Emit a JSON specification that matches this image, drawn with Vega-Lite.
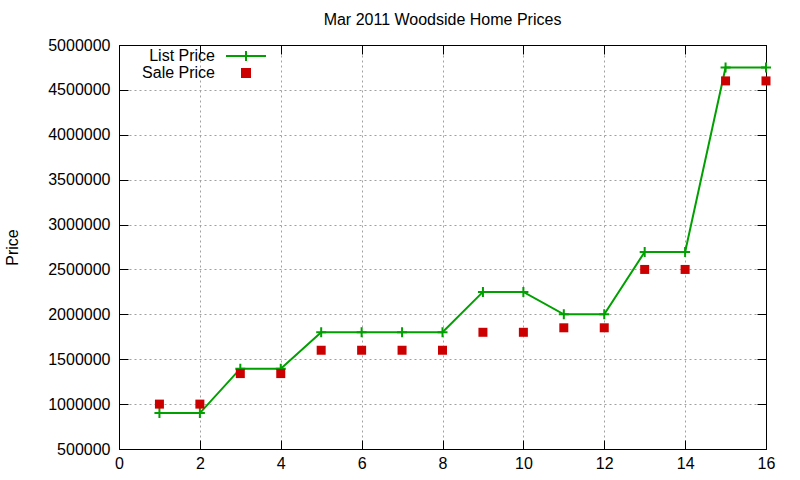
{
  "$schema": "https://vega.github.io/schema/vega-lite/v6.json",
  "width": 647,
  "height": 404,
  "autosize": {"type": "none"},
  "padding": {"left": 119, "top": 45, "right": 34, "bottom": 31},
  "title": {
    "text": "Mar 2011 Woodside Home Prices",
    "fontSize": 16,
    "fontWeight": "normal",
    "font": "Liberation Sans",
    "color": "black",
    "anchor": "middle",
    "offset": 9
  },
  "data": {
    "values": [
      {"n": 1, "price": 900000, "series": "List Price"},
      {"n": 2, "price": 900000, "series": "List Price"},
      {"n": 3, "price": 1395000, "series": "List Price"},
      {"n": 4, "price": 1395000, "series": "List Price"},
      {"n": 5, "price": 1800000, "series": "List Price"},
      {"n": 6, "price": 1800000, "series": "List Price"},
      {"n": 7, "price": 1800000, "series": "List Price"},
      {"n": 8, "price": 1800000, "series": "List Price"},
      {"n": 9, "price": 2250000, "series": "List Price"},
      {"n": 10, "price": 2250000, "series": "List Price"},
      {"n": 11, "price": 2000000, "series": "List Price"},
      {"n": 12, "price": 2000000, "series": "List Price"},
      {"n": 13, "price": 2695000, "series": "List Price"},
      {"n": 14, "price": 2695000, "series": "List Price"},
      {"n": 15, "price": 4750000, "series": "List Price"},
      {"n": 16, "price": 4750000, "series": "List Price"},
      {"n": 1, "price": 1000000, "series": "Sale Price"},
      {"n": 2, "price": 1000000, "series": "Sale Price"},
      {"n": 3, "price": 1340000, "series": "Sale Price"},
      {"n": 4, "price": 1340000, "series": "Sale Price"},
      {"n": 5, "price": 1600000, "series": "Sale Price"},
      {"n": 6, "price": 1600000, "series": "Sale Price"},
      {"n": 7, "price": 1600000, "series": "Sale Price"},
      {"n": 8, "price": 1600000, "series": "Sale Price"},
      {"n": 9, "price": 1800000, "series": "Sale Price"},
      {"n": 10, "price": 1800000, "series": "Sale Price"},
      {"n": 11, "price": 1850000, "series": "Sale Price"},
      {"n": 12, "price": 1850000, "series": "Sale Price"},
      {"n": 13, "price": 2500000, "series": "Sale Price"},
      {"n": 14, "price": 2500000, "series": "Sale Price"},
      {"n": 15, "price": 4600000, "series": "Sale Price"},
      {"n": 16, "price": 4600000, "series": "Sale Price"}
    ]
  },
  "layer": [
    {
      "transform": [{"filter": "datum.series === 'List Price'"}],
      "mark": {
        "type": "line",
        "strokeWidth": 2,
        "point": {"shape": "M-1,0H1M0,-1V1", "filled": false, "size": 100, "strokeWidth": 2}
      },
      "encoding": {
        "x": {
          "field": "n",
          "type": "quantitative",
          "scale": {"domain": [0, 16], "nice": false, "zero": false},
          "axis": {
            "orient": "bottom",
            "values": [0, 2, 4, 6, 8, 10, 12, 14, 16],
            "title": null,
            "tickSize": -9,
            "labelPadding": 15,
            "labelFlush": false
          }
        },
        "y": {
          "field": "price",
          "type": "quantitative",
          "scale": {"domain": [500000, 5000000], "nice": false, "zero": false},
          "axis": {
            "orient": "left",
            "values": [500000, 1000000, 1500000, 2000000, 2500000, 3000000, 3500000, 4000000, 4500000, 5000000],
            "format": "d",
            "title": "Price",
            "titleX": -107,
            "titleY": 202,
            "titleAngle": -90,
            "titleBaseline": "middle",
            "titleAlign": "center",
            "tickSize": -9,
            "labelPadding": 18,
            "labelFlush": false
          }
        },
        "color": {
          "field": "series",
          "type": "nominal",
          "scale": {"domain": ["List Price", "Sale Price"], "range": ["#00a000", "#cc0000"]},
          "legend": {
            "title": null,
            "orient": "none",
            "legendX": 119,
            "legendY": 3,
            "padding": 0,
            "labelAlign": "right",
            "labelOffset": -39,
            "labelFontSize": 16,
            "labelFont": "Liberation Sans",
            "labelColor": "black",
            "symbolSize": 256,
            "rowPadding": -2,
            "encode": {
              "symbols": {
                "update": {
                  "shape": {"signal": "datum.value === 'List Price' ? 'M-1,0H1M0,-0.25V0.25' : 'square'"},
                  "size": {"signal": "datum.value === 'List Price' ? 1600 : 64"},
                  "fill": {"signal": "datum.value === 'List Price' ? 'transparent' : '#cc0000'"},
                  "stroke": {"signal": "datum.value === 'List Price' ? '#00a000' : 'transparent'"},
                  "strokeWidth": {"value": 2},
                  "opacity": {"value": 1}
                }
              }
            }
          }
        }
      }
    },
    {
      "transform": [{"filter": "datum.series === 'Sale Price'"}],
      "mark": {"type": "point", "shape": "square", "filled": true, "size": 81, "opacity": 1},
      "encoding": {
        "x": {"field": "n", "type": "quantitative", "axis": null},
        "y": {"field": "price", "type": "quantitative", "axis": null},
        "color": {"field": "series", "type": "nominal"}
      }
    },
    {
      "mark": {"type": "point", "opacity": 0},
      "encoding": {
        "x": {
          "field": "n",
          "type": "quantitative",
          "axis": {"orient": "top", "values": [0, 2, 4, 6, 8, 10, 12, 14, 16], "labels": false, "grid": false, "title": null, "tickSize": -9}
        },
        "y": {
          "field": "price",
          "type": "quantitative",
          "axis": {"orient": "right", "values": [500000, 1000000, 1500000, 2000000, 2500000, 3000000, 3500000, 4000000, 4500000, 5000000], "labels": false, "grid": false, "title": null, "tickSize": -9}
        }
      }
    }
  ],
  "resolve": {"axis": {"x": "independent", "y": "independent"}},
  "config": {
    "view": {"stroke": "black", "strokeWidth": 1},
    "axis": {
      "domainColor": "black",
      "domainWidth": 1,
      "tickColor": "black",
      "tickWidth": 1,
      "labelFont": "Liberation Sans",
      "labelFontSize": 16,
      "labelColor": "black",
      "titleFont": "Liberation Sans",
      "titleFontSize": 16,
      "titleFontWeight": "normal",
      "titleColor": "black",
      "grid": true,
      "gridColor": "#a0a0a0",
      "gridDash": [2, 3],
      "gridWidth": 1
    }
  }
}
